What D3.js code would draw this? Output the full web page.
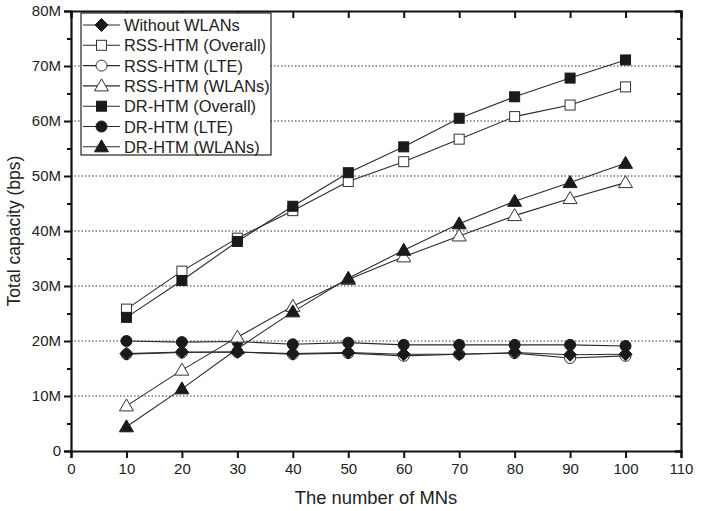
<!DOCTYPE html>
<html>
<head>
<meta charset="utf-8">
<script src="https://cdn.jsdelivr.net/npm/d3@7"></script>
<style>
  body { margin: 0; background: #fff; }
  svg text { font-family: "Liberation Sans", Arial, sans-serif; fill: #222; }
</style>
</head>
<body>
<svg id="chart" width="702" height="511"></svg>
<script>
// ── Data ───────────────────────────────────────────────────────
const MNS = [10, 20, 30, 40, 50, 60, 70, 80, 90, 100];
const withoutWlans = [17.7, 18.0, 18.0, 17.7, 17.9, 17.6, 17.6, 17.9, 17.5, 17.6];
const rssOverall   = [25.8, 32.7, 38.7, 43.7, 49.0, 52.6, 56.7, 60.8, 62.9, 66.2];
const rssLte       = [17.6, 17.9, 18.0, 17.6, 17.8, 17.3, 17.6, 17.8, 16.9, 17.3];
const rssWlans     = [8.2, 14.7, 20.7, 26.3, 31.2, 35.3, 39.1, 42.8, 45.9, 48.8];
const drOverall    = [24.3, 31.0, 38.1, 44.5, 50.6, 55.3, 60.5, 64.4, 67.8, 71.1];
const drLte        = [20.0, 19.8, 19.9, 19.4, 19.7, 19.3, 19.3, 19.3, 19.3, 19.1];
const drWlans      = [4.4, 11.3, 18.6, 25.3, 31.4, 36.5, 41.3, 45.4, 48.8, 52.3];

const SERIES = [
  { name: 'Without WLANs',     values: withoutWlans, shape: 'diamond',  fill: true },
  { name: 'RSS-HTM (Overall)', values: rssOverall,   shape: 'square',   fill: false },
  { name: 'RSS-HTM (LTE)',     values: rssLte,       shape: 'circle',   fill: false },
  { name: 'RSS-HTM (WLANs)',   values: rssWlans,     shape: 'triangle', fill: false },
  { name: 'DR-HTM (Overall)',  values: drOverall,    shape: 'square',   fill: true },
  { name: 'DR-HTM (LTE)',      values: drLte,        shape: 'circle',   fill: true },
  { name: 'DR-HTM (WLANs)',    values: drWlans,      shape: 'triangle', fill: true }
];

const X_TICKS = d3.range(0, 111, 10);
const Y_TICKS = d3.range(0, 81, 10);
const Y_LABELS = ['0', '10M', '20M', '30M', '40M', '50M', '60M', '70M', '80M'];

// ── Layout ─────────────────────────────────────────────────────
const M = { left: 71, right: 21, top: 11, bottom: 60 };
const W = 702, H = 511;
const svg = d3.select('#chart');

const x = d3.scaleLinear().domain([0, 110]).range([M.left, W - M.right]);
const y = d3.scaleLinear().domain([0, 80]).range([H - M.bottom, M.top]);

// ── Grid ───────────────────────────────────────────────────────
svg.append('g').selectAll('line')
  .data(Y_TICKS.filter(v => v > 0 && v < 80)).join('line')
  .attr('x1', x(0)).attr('x2', x(110))
  .attr('y1', d => y(d)).attr('y2', d => y(d))
  .attr('stroke', '#333').attr('stroke-width', 1)
  .attr('stroke-dasharray', '1.5,2');

// ── Axes ───────────────────────────────────────────────────────
const minorY = d3.range(5, 80, 10);

const xAxis = svg.append('g').attr('transform', `translate(0,${y(0)})`)
  .call(d3.axisBottom(x).tickValues(X_TICKS).tickSize(7).tickPadding(5));
const yAxis = svg.append('g').attr('transform', `translate(${x(0)},0)`)
  .call(d3.axisLeft(y).tickValues(Y_TICKS).tickSize(7).tickPadding(3)
    .tickFormat((d, i) => Y_LABELS[i]));
svg.append('g').attr('transform', `translate(${x(0)},0)`)
  .call(d3.axisLeft(y).tickValues(minorY).tickSize(4).tickFormat(''))
  .call(g => g.select('.domain').remove());

// mirrored top / right ticks pointing inward
svg.append('g').attr('transform', `translate(0,${y(80)})`)
  .call(d3.axisBottom(x).tickValues(X_TICKS).tickSize(7).tickFormat(''));
svg.append('g').attr('transform', `translate(${x(110)},0)`)
  .call(d3.axisLeft(y).tickValues(Y_TICKS).tickSize(6).tickFormat(''));
svg.append('g').attr('transform', `translate(${x(110)},0)`)
  .call(d3.axisLeft(y).tickValues(minorY).tickSize(4).tickFormat(''))
  .call(g => g.select('.domain').remove());

svg.selectAll('.domain').attr('stroke', '#111').attr('stroke-width', 2.2);
svg.selectAll('.tick line').attr('stroke', '#111').attr('stroke-width', 2);
svg.selectAll('.tick text').attr('font-size', 15).attr('fill', '#222');

// axis titles
svg.append('text')
  .attr('x', x(55)).attr('y', 504)
  .attr('text-anchor', 'middle').attr('font-size', 18.4)
  .text('The number of MNs');
svg.append('text')
  .attr('transform', `translate(20,${y(40)}) rotate(-90)`)
  .attr('text-anchor', 'middle').attr('font-size', 17.5)
  .text('Total capacity (bps)');

// ── Markers ────────────────────────────────────────────────────
function drawMarker(g, shape, fill) {
  const f = fill ? '#1a1a1a' : '#fff';
  const s = fill ? '#1a1a1a' : '#333';
  if (shape === 'square') {
    g.append('rect').attr('x', -5).attr('y', -5).attr('width', 10).attr('height', 10)
      .attr('fill', f).attr('stroke', s).attr('stroke-width', 1);
  } else if (shape === 'circle') {
    g.append('circle').attr('r', 5.5).attr('fill', f).attr('stroke', s).attr('stroke-width', 1);
  } else if (shape === 'triangle') {
    g.append('path').attr('d', 'M0,-7L7,5L-7,5Z')
      .attr('fill', f).attr('stroke', s).attr('stroke-width', 1);
  } else if (shape === 'diamond') {
    g.append('path').attr('d', 'M0,-6.5L6.5,0L0,6.5L-6.5,0Z')
      .attr('fill', f).attr('stroke', s).attr('stroke-width', 1);
  }
}

const line = d3.line().x((d, i) => x(MNS[i])).y(d => y(d));

// draw in an order so filled markers sit on top like the reference
const drawOrder = [2, 0, 5, 3, 6, 1, 4];
drawOrder.forEach(si => {
  const s = SERIES[si];
  svg.append('path').datum(s.values)
    .attr('d', line).attr('fill', 'none')
    .attr('stroke', '#2a2a2a').attr('stroke-width', 1.1);
});
drawOrder.forEach(si => {
  const s = SERIES[si];
  svg.append('g').selectAll('g')
    .data(s.values).join('g')
    .attr('transform', (d, i) => `translate(${x(MNS[i])},${y(d)})`)
    .each(function () { drawMarker(d3.select(this), s.shape, s.fill); });
});

// ── Legend ─────────────────────────────────────────────────────
const lg = svg.append('g');
lg.append('rect').attr('x', 81).attr('y', 13).attr('width', 190).attr('height', 142)
  .attr('fill', '#fff').attr('stroke', '#222').attr('stroke-width', 1.2);
SERIES.forEach((s, i) => {
  const yy = 25 + i * 20.3;
  lg.append('line').attr('x1', 83).attr('x2', 120).attr('y1', yy).attr('y2', yy)
    .attr('stroke', '#2a2a2a').attr('stroke-width', 1.1);
  const mg = lg.append('g').attr('transform', `translate(101.5,${yy})`);
  drawMarker(mg, s.shape, s.fill);
  lg.append('text').attr('x', 124).attr('y', yy + 6)
    .attr('font-size', 16.4).text(s.name);
});
</script>
</body>
</html>
